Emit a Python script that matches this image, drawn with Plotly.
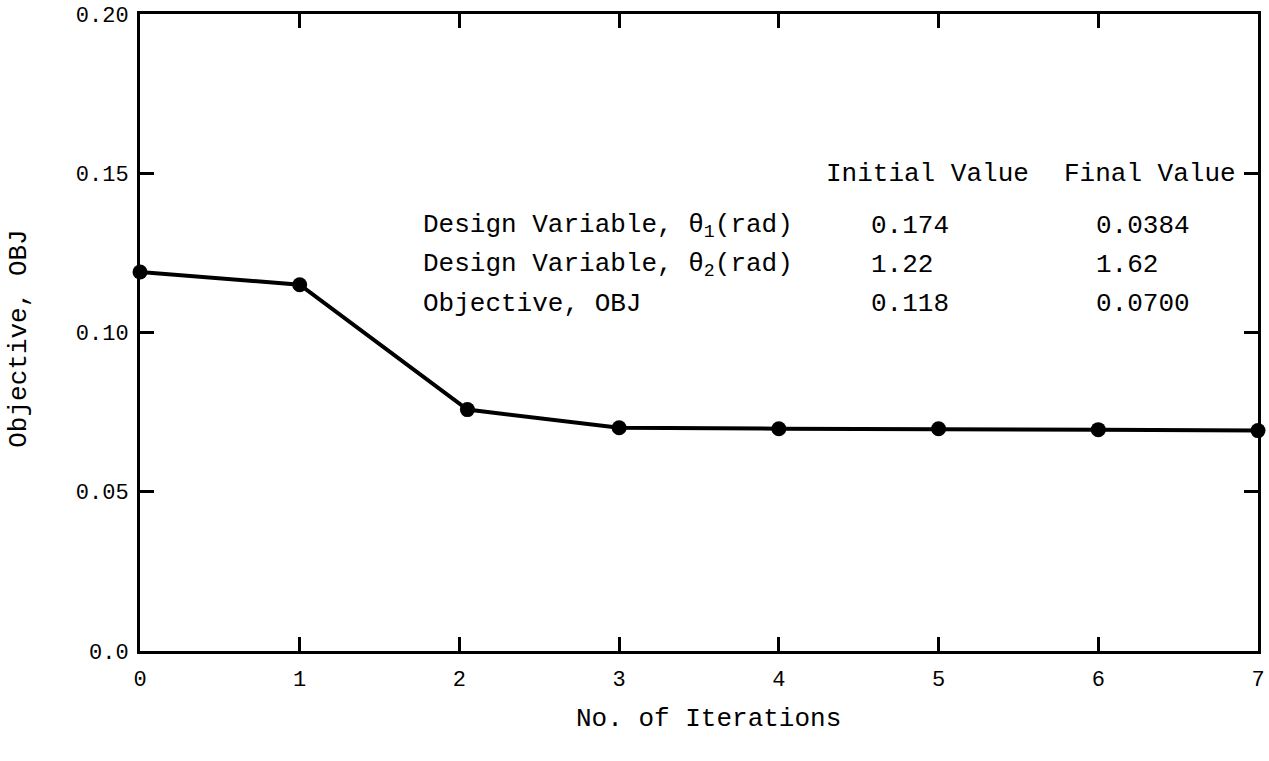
import plotly.graph_objects as go

iterations = [0, 1, 2.05, 3, 4, 5, 6, 7]
objective = [0.119, 0.115, 0.0758, 0.0701, 0.0698, 0.0698, 0.0695, 0.0692]

x_ticks = [0, 1, 2, 3, 4, 5, 6, 7]
y_ticks = [0.0, 0.05, 0.10, 0.15, 0.20]
y_tick_labels = ["0.0", "0.05", "0.10", "0.15", "0.20"]

row_labels = ["Design Variable, θ<sub>1</sub>(rad)", "Design Variable, θ<sub>2</sub>(rad)", "Objective, OBJ"]
initial_values = ["0.174", "1.22", "0.118"]
final_values = ["0.0384", "1.62", "0.0700"]

FONT = "Liberation Mono"
W, H = 1269, 761
L, R, T, B = 140, 4, 12, 110
pw, ph = W - L - R, H - T - B

fig = go.Figure()
fig.add_trace(go.Scatter(
    x=iterations, y=objective, mode="lines+markers",
    line=dict(color="black", width=4),
    marker=dict(color="black", size=15),
    cliponaxis=False, showlegend=False,
))

def px_x(p):
    return (p - L) / pw * 7

def px_y(p):
    return (H - B - p) / ph * 0.2

ann = []
tsize = 26
ann.append(dict(x=px_x(828), y=px_y(172), text="Initial Value", xanchor="left", yanchor="middle"))
ann.append(dict(x=px_x(1068), y=px_y(172), text="Final Value", xanchor="left", yanchor="middle"))
row_y = [225, 264, 303]
for i in range(3):
    ann.append(dict(x=px_x(423), y=px_y(row_y[i]), text=row_labels[i], xanchor="left", yanchor="middle"))
    ann.append(dict(x=px_x(874), y=px_y(row_y[i]), text=initial_values[i], xanchor="left", yanchor="middle"))
    ann.append(dict(x=px_x(1100), y=px_y(row_y[i]), text=final_values[i], xanchor="left", yanchor="middle"))
for a in ann:
    a.update(xref="x", yref="y", showarrow=False, font=dict(family=FONT, size=tsize, color="black"))

ann.append(dict(xref="paper", yref="paper", x=(712 - L) / pw, y=-(719 - (H - B)) / ph,
                text="No. of Iterations", showarrow=False, xanchor="center", yanchor="middle",
                font=dict(family=FONT, size=tsize, color="black")))
ann.append(dict(xref="paper", yref="paper", x=(18 - L) / pw, y=(H - B - 338) / ph,
                text="Objective, OBJ", showarrow=False, textangle=-90, xanchor="center", yanchor="middle",
                font=dict(family=FONT, size=tsize, color="black")))

fig.update_layout(
    width=W, height=H,
    margin=dict(l=L, r=R, t=T, b=B),
    paper_bgcolor="white", plot_bgcolor="white",
    annotations=ann,
    xaxis=dict(range=[0, 7], tickvals=x_ticks, ticktext=[str(v) for v in x_ticks],
               showline=True, mirror="ticks", linecolor="black", linewidth=3,
               ticks="inside", ticklen=14, tickwidth=3, tickcolor="black",
               showgrid=False, zeroline=False, ticklabelstandoff=6,
               tickfont=dict(family=FONT, size=22, color="black")),
    yaxis=dict(range=[0, 0.2], tickvals=y_ticks, ticktext=y_tick_labels,
               showline=True, mirror="ticks", linecolor="black", linewidth=3,
               ticks="inside", ticklen=14, tickwidth=3, tickcolor="black",
               showgrid=False, zeroline=False, ticklabelstandoff=4,
               tickfont=dict(family=FONT, size=22, color="black")),
)

fig.write_html("out.html", config={"displayModeBar": False},
               post_script="document.body.style.margin='0';document.body.style.overflow='hidden';")
